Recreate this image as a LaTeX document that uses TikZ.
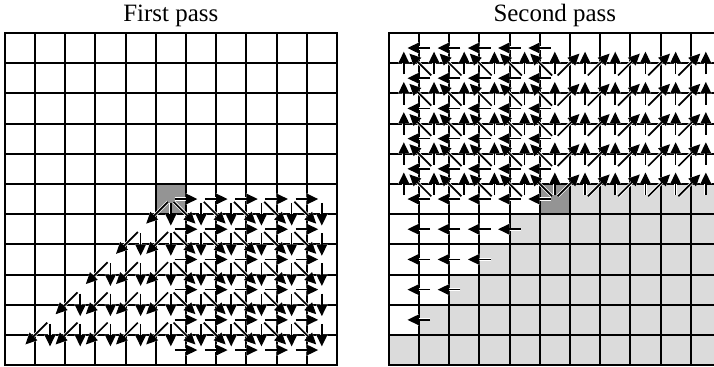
\documentclass[tikz,border=0pt]{standalone}
\usepackage{fontspec}
\setmainfont{Liberation Serif}
\usetikzlibrary{positioning,arrows.meta}

\begin{document}
\begin{tikzpicture}[cellbox/.style={draw, line width=1.9pt, minimum size=1cm, inner sep=0pt, fill=white},
  donebox/.style={cellbox, fill=black!14}, seedbox/.style={cellbox, fill=black!42},
  arr/.style={-{Triangle[length=3.8mm,width=3.5mm]}, line width=1.6pt, shorten <=0.13cm, shorten >=0.12cm, preaction={draw=white, line width=3pt}},
  diag/.style={arr, shorten >=0.26cm},
  title/.style={inner sep=0pt, font=\fontsize{23.5}{28}\selectfont}]
\useasboundingbox (0,0) rectangle (23.64,12.12);

% cells of both grids
\foreach \r in {0,...,10}
  \foreach \c in {0,...,10} {
    \def\kind{cellbox}
    \ifnum\r=5 \ifnum\c=5 \def\kind{seedbox}\fi\fi
    \node[\kind] (f-\r-\c) at ({0.656+\c},{10.53-\r}) {};
    \ifnum\r>4 \ifnum\numexpr\r+\c\relax>9 \def\kind{donebox}\fi\fi
    \ifnum\r=5 \ifnum\c=5 \def\kind{seedbox}\fi\fi
    \node[\kind] (s-\r-\c) at ({13.37+\c},{10.53-\r}) {};
  }

\node[title, above=0.15cm of f-0-5] (firsttitle) {First pass};
\node[title, above=0.15cm of s-0-5] (secondtitle) {Second pass};

% first pass
\foreach \r in {5,...,10} {
  \foreach \c [evaluate=\c as \nc using int(\c+1)] in {5,...,9}
    \draw[arr] (f-\r-\c.center) -- (f-\r-\nc.center);
}
\foreach \r [evaluate=\r as \pr using int(\r-1), evaluate=\r as \firstc using int(11-\r)] in {6,...,10} {
  \foreach \c in {\firstc,...,10}
    \draw[arr] (f-\pr-\c.center) -- (f-\r-\c.center);
  \foreach \c [evaluate=\c as \nc using int(\c-1)] in {\firstc,...,5}
    \draw[diag] (f-\pr-\c.center) -- (f-\r-\nc.center);
  \foreach \c [evaluate=\c as \nc using int(\c+1)] in {5,...,9}
    \draw[diag] (f-\pr-\c.center) -- (f-\r-\nc.center);
}

% second pass
\foreach \r [evaluate={\r as \lastc using int(min(5,10-\r))}] in {0,...,9} {
  \foreach \c [evaluate=\c as \nc using int(\c-1)] in {1,...,\lastc}
    \draw[arr] (s-\r-\c.center) -- (s-\r-\nc.center);
}
\foreach \r [evaluate=\r as \br using int(\r+1)] in {0,...,4} {
  \foreach \c in {0,...,10}
    \draw[arr] (s-\br-\c.center) -- (s-\r-\c.center);
  \foreach \c [evaluate=\c as \nc using int(\c-1)] in {1,...,5}
    \draw[diag] (s-\br-\c.center) -- (s-\r-\nc.center);
  \foreach \c [evaluate=\c as \nc using int(\c+1)] in {5,...,9}
    \draw[diag] (s-\br-\c.center) -- (s-\r-\nc.center);
}
\end{tikzpicture}
\end{document}
